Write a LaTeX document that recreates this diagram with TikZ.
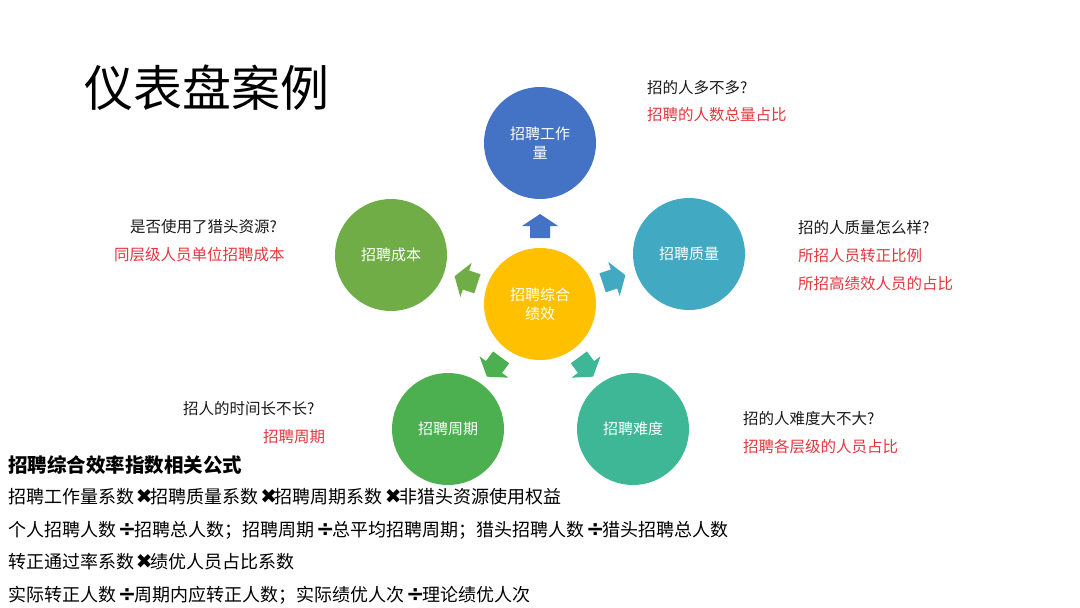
\documentclass[tikz,border=0pt]{standalone}
\usepackage{fontspec}
\setmainfont{Noto Sans CJK SC}
\newfontfamily\symfont{DejaVu Sans}
\definecolor{cblue}{HTML}{4472C4}
\definecolor{cgreen}{HTML}{70AD47}
\definecolor{cteal}{HTML}{41A9C2}
\definecolor{cyellow}{HTML}{FFC000}
\definecolor{cgreentwo}{HTML}{4CAF50}
\definecolor{ctealtwo}{HTML}{3DB795}
\definecolor{cred}{HTML}{E2383F}
\definecolor{ctext}{HTML}{1A1A1A}
\newcommand{\mulsym}{\hspace{0.1em}{\symfont\bfseries\fontsize{20}{20}\selectfont ✖}\hspace{-0.12em}}
\newcommand{\divsym}{\hspace{0.1em}{\symfont\bfseries\fontsize{22}{20}\selectfont ÷}\hspace{-0.12em}}
\newcommand{\fatarrow}[3]{\fill[#3, shift={#1}, rotate=#2] (-12,-10) -- (0,-10) -- (0,-18) -- (12,0) -- (0,18) -- (0,10) -- (-12,10) -- cycle;}
\tikzset{
  circ/.style={circle, minimum size=112pt, inner sep=0pt, align=center, text=white, font=\fontsize{15}{19}\selectfont},
  qlabel/.style={anchor=west, inner sep=0pt, text=ctext, font=\fontsize{15.5}{18}\selectfont},
  rlabel/.style={anchor=west, inner sep=0pt, text=cred, font=\fontsize{15.5}{18}\selectfont},
  fline/.style={anchor=west, inner sep=0pt, text=black, font=\fontsize{18}{20}\selectfont},
}
\begin{document}
\begin{tikzpicture}[x=1pt,y=-1pt]
\path[use as bounding box, fill=white] (0,0) rectangle (1080,608);
% title
\node[anchor=west, inner sep=0pt, font=\fontsize{49}{52}\selectfont] (title) at (84,88) {仪表盘案例};
% circles
\node[circ, fill=cyellow] (center) at (540,304) {招聘综合\\绩效};
\node[circ, fill=cblue] (work) at (540,143) {招聘工作\\量};
\node[circ, fill=cgreen] (cost) at (391,255) {招聘成本};
\node[circ, fill=cteal] (quality) at (689,254) {招聘质量};
\node[circ, fill=cgreentwo] (cycle) at (448,429) {招聘周期};
\node[circ, fill=ctealtwo] (diff) at (633,429) {招聘难度};
% arrows
\fatarrow{(540,226)}{90}{cblue}
\fatarrow{(466,280)}{161.8}{cgreen}
\fatarrow{(614,279)}{18.5}{cteal}
\fatarrow{(494,367)}{-126.4}{cgreentwo}
\fatarrow{(586,367)}{-53.6}{ctealtwo}
% labels
\node[qlabel] (q1) at (647,88) {招的人多不多?};
\node[rlabel] (r1) at (647,115) {招聘的人数总量占比};
\node[qlabel] (q2) at (130,227) {是否使用了猎头资源?};
\node[rlabel] (r2) at (114,255) {同层级人员单位招聘成本};
\node[qlabel] (q3) at (798,228) {招的人质量怎么样?};
\node[rlabel] (r3a) at (798,256) {所招人员转正比例};
\node[rlabel] (r3b) at (798,284) {所招高绩效人员的占比};
\node[qlabel] (q4) at (183,409) {招人的时间长不长?};
\node[rlabel] (r4) at (263,437) {招聘周期};
\node[qlabel] (q5) at (743,419) {招的人难度大不大?};
\node[rlabel] (r5) at (743,447) {招聘各层级的人员占比};
% formulas
\node[anchor=west, inner sep=0pt, font=\fontsize{19.5}{22}\selectfont\bfseries] (head) at (8,465) {招聘综合效率指数相关公式};
\node[fline] (f1) at (8,497) {招聘工作量系数\mulsym 招聘质量系数\mulsym 招聘周期系数\mulsym 非猎头资源使用权益};
\node[fline] (f2) at (8,530) {个人招聘人数\divsym 招聘总人数；招聘周期\divsym 总平均招聘周期；猎头招聘人数\divsym 猎头招聘总人数};
\node[fline] (f3) at (8,562) {转正通过率系数\mulsym 绩优人员占比系数};
\node[fline] (f4) at (8,595) {实际转正人数\divsym 周期内应转正人数；实际绩优人次\divsym 理论绩优人次};
\end{tikzpicture}
\end{document}
